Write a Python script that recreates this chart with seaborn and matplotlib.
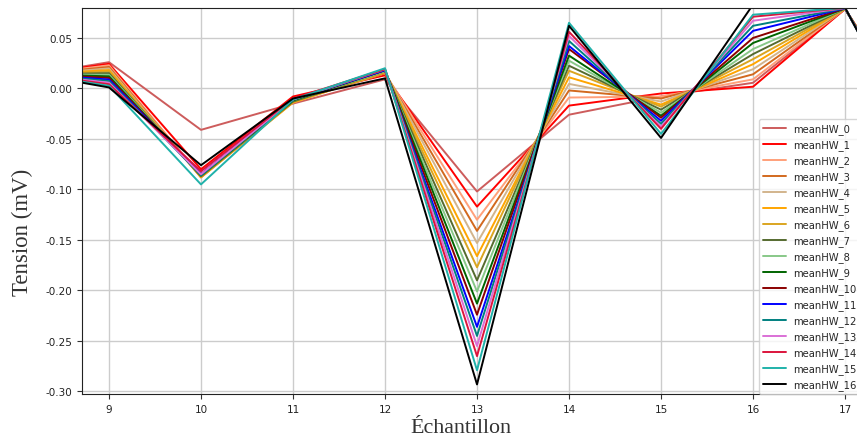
import numpy as np
import pandas as pd
import matplotlib
matplotlib.use('Agg')
import matplotlib.pyplot as plt
import seaborn as sns

# sample index (x axis)
samples = [8, 9, 10, 11, 12, 13, 14, 15, 16, 17, 18]

# mean tension per harmonic window, one list per series (mV)
mean_hw_0 = [0.0110, 0.0260, -0.041, -0.015, 0.009, -0.102, -0.026, -0.008, 0.0056, 0.0785, -0.060]
mean_hw_1 = [0.0114, 0.0244, -0.080, -0.008, 0.013, -0.117, -0.017, -0.005, 0.0017, 0.0786, -0.062]
mean_hw_2 = [0.0118, 0.0229, -0.087, -0.013, 0.015, -0.130, -0.009, -0.008, 0.0090, 0.0787, -0.064]
mean_hw_3 = [0.0121, 0.0213, -0.088, -0.013, 0.015, -0.141, -0.002, -0.010, 0.0140, 0.0788, -0.066]
mean_hw_4 = [0.0125, 0.0198, -0.088, -0.014, 0.016, -0.153, 0.0045, -0.013, 0.0190, 0.0789, -0.068]
mean_hw_5 = [0.0129, 0.0182, -0.088, -0.014, 0.016, -0.166, 0.011, -0.016, 0.0240, 0.0790, -0.070]
mean_hw_6 = [0.0133, 0.0166, -0.087, -0.013, 0.016, -0.177, 0.0175, -0.018, 0.0290, 0.0790, -0.072]
mean_hw_7 = [0.0136, 0.0151, -0.087, -0.013, 0.017, -0.190, 0.0225, -0.021, 0.0340, 0.0791, -0.074]
mean_hw_8 = [0.0140, 0.0135, -0.086, -0.012, 0.017, -0.201, 0.0275, -0.024, 0.0390, 0.0792, -0.076]
mean_hw_9 = [0.0144, 0.0120, -0.086, -0.012, 0.018, -0.213, 0.0325, -0.027, 0.0450, 0.0792, -0.078]
mean_hw_10 = [0.0148, 0.0104, -0.085, -0.011, 0.018, -0.224, 0.039, -0.029, 0.0500, 0.0793, -0.080]
mean_hw_11 = [0.0151, 0.0088, -0.085, -0.011, 0.018, -0.236, 0.042, -0.032, 0.0570, 0.0794, -0.082]
mean_hw_12 = [0.0155, 0.0073, -0.086, -0.011, 0.019, -0.245, 0.047, -0.035, 0.0620, 0.0795, -0.084]
mean_hw_13 = [0.0159, 0.0057, -0.085, -0.011, 0.019, -0.255, 0.052, -0.038, 0.0670, 0.0796, -0.086]
mean_hw_14 = [0.0163, 0.0042, -0.082, -0.010, 0.019, -0.265, 0.056, -0.040, 0.0710, 0.0797, -0.088]
mean_hw_15 = [0.0166, 0.0026, -0.095, -0.011, 0.020, -0.279, 0.065, -0.045, 0.0730, 0.0798, -0.090]
mean_hw_16 = [0.0170, 0.0010, -0.076, -0.010, 0.010, -0.293, 0.062, -0.049, 0.0830, 0.0800, -0.092]

series = [mean_hw_0, mean_hw_1, mean_hw_2, mean_hw_3, mean_hw_4, mean_hw_5,
          mean_hw_6, mean_hw_7, mean_hw_8, mean_hw_9, mean_hw_10, mean_hw_11,
          mean_hw_12, mean_hw_13, mean_hw_14, mean_hw_15, mean_hw_16]
labels = ['meanHW_%d' % i for i in range(len(series))]

colors = ['indianred', 'red', 'lightsalmon', 'chocolate', 'tan', 'orange',
          'goldenrod', 'darkolivegreen', '#88c888', 'darkgreen', 'darkred',
          'blue', 'teal', 'orchid', 'crimson', 'lightseagreen', 'black']

frames = []
for lab, vals in zip(labels, series):
    frames.append(pd.DataFrame({'sample': samples, 'tension': vals, 'serie': lab}))
df = pd.concat(frames, ignore_index=True)

sns.set_style('ticks')
fig = plt.figure(figsize=(8.57, 4.39), dpi=100)
ax = fig.add_axes([0.0957, 0.1002, 0.9043, 0.879])

sns.lineplot(data=df, x='sample', y='tension', hue='serie', hue_order=labels,
             palette=colors, linewidth=1.4, ax=ax)

ax.grid(True, color='#cccccc', linewidth=1)
ax.set_axisbelow(True)
ax.set_xlim(8.707, 17.13)
ax.set_ylim(-0.3025, 0.0795)
ax.set_xticks(range(9, 18))
ax.set_yticks([0.05, 0.0, -0.05, -0.10, -0.15, -0.20, -0.25, -0.30])
ax.yaxis.set_major_formatter(matplotlib.ticker.FormatStrFormatter('%.2f'))
ax.tick_params(labelsize=7.5, length=3.5, color='#333333', labelcolor='#222222')
ax.spines['right'].set_visible(False)
for s in ['left', 'bottom', 'top']:
    ax.spines[s].set_color('#222222')

ax.set_xlabel('Échantillon', fontsize=15.8, family='Liberation Serif', color='#333333')
ax.set_ylabel('Tension (mV)', fontsize=16.5, family='Liberation Serif', color='#333333')
ax.xaxis.set_label_coords(0.489, -0.063)
ax.yaxis.set_label_coords(-0.063, 0.422)

leg = ax.legend(loc='lower left', bbox_to_anchor=(0.8735, 0.0), borderaxespad=0,
                fontsize=7.2, frameon=True, fancybox=True, labelspacing=0.51,
                handlelength=2.3, handletextpad=0.7)
leg.get_frame().set_edgecolor('#cccccc')

fig.savefig('out.png', dpi=100)
